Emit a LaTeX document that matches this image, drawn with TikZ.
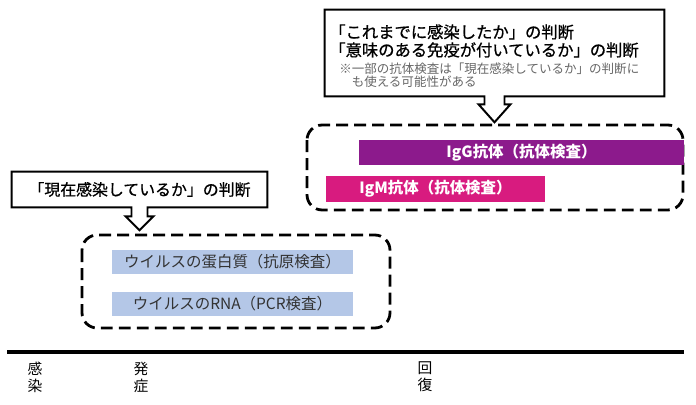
\documentclass[tikz,border=0pt]{standalone}
\usepackage{fontspec}
\setmainfont{Noto Sans CJK JP}
\newfontfamily\heavyjp{Noto Sans CJK JP}[FakeBold=0.8]
\usepackage{tikz}
\usetikzlibrary{positioning, calc}
\definecolor{bBlue}{HTML}{B4C7E7}
\definecolor{bPurple}{HTML}{8C1A8C}
\definecolor{bMagenta}{HTML}{D81B7F}

\begin{document}
\begin{tikzpicture}[x=0.025cm, y=-0.025cm,
    callout/.style={draw=black, line width=1.4pt, line join=miter},
    zone/.style={draw=black, line width=2pt, dash pattern=on 8.5pt off 4.3pt, rounded corners=0.38cm},
    bar/.style={inner sep=0pt, font=\fontsize{11}{13}\selectfont},
    tick/.style={align=center, inner sep=0pt, font=\fontsize{10.5}{12}\selectfont}]
  \useasboundingbox (0,0) rectangle (696,405);

  % callout boxes
  \node[minimum width=8.475cm, minimum height=2.15cm] (pastBox) at (494.5,53) {};
  \node[minimum width=6.375cm, minimum height=0.875cm, font=\fontsize{11.3}{13}\heavyjp] (nowBox) at (139.5,189.5) {「現在感染しているか」の判断};
  \foreach \b/\s/\h/\d/\t in {pastBox/10/16/8/26, nowBox/8/14/9/23} {
    \draw[callout] (\b.south west) -- (\b.north west) -- (\b.north east) -- (\b.south east)
      -- ($(\b.south)+(\s,0)$) -- ++(0,\d) -- ($(\b.south)+(\h,\d)$) -- ($(\b.south)+(0,\t)$)
      -- ($(\b.south)+(-\h,\d)$) -- ($(\b.south)+(-\s,\d)$) -- ($(\b.south)+(-\s,0)$) -- cycle;
  }
  \node[anchor=west, inner sep=0pt, align=left, font=\fontsize{11.6}{12.8}\heavyjp] (pastText) at (329,41)
    {「これまでに感染したか」の判断\\「意味のある免疫が付いているか」の判断};
  \node[anchor=west, inner sep=0pt, align=left, text=black!60, font=\fontsize{8.9}{9.3}\selectfont] (noteText) at (339,75.5)
    {※一部の抗体検査は「現在感染しているか」の判断に\\\hspace*{1em}も使える可能性がある};

  % dashed zones
  \draw[zone] (82,235) rectangle (390,328);
  \draw[zone] (307,125) rectangle (683,210);

  % test bars
  \node[bar, fill=bBlue, text=black!80, minimum width=6.025cm, minimum height=0.6cm] (antigenBar) at (232.5,262) {ウイルスの蛋白質（抗原検査）};
  \node[bar, fill=bBlue, text=black!80, minimum width=6.025cm, minimum height=0.6cm] (rnaBar) at (232.5,304) {ウイルスのRNA（PCR検査）};
  \node[bar, fill=bPurple, text=white, font=\fontsize{11}{13}\bfseries\selectfont, minimum width=8.125cm, minimum height=0.625cm] (igGBar) at (521.5,152.5) {IgG抗体（抗体検査）};
  \node[bar, fill=bMagenta, text=white, font=\fontsize{11}{13}\bfseries\selectfont, minimum width=5.475cm, minimum height=0.65cm] (igMBar) at (435.5,189) {IgM抗体（抗体検査）};

  % time axis
  \coordinate (tStart) at (7,352);
  \coordinate (tEnd) at (684,352);
  \draw[line width=2.8pt] (tStart) -- (tEnd);
  \node[tick] (infection) at (35,377) {感\\染};
  \node[tick] (onset) at (141,377) {発\\症};
  \node[tick] (recovery) at (425,377) {回\\復};
\end{tikzpicture}
\end{document}
